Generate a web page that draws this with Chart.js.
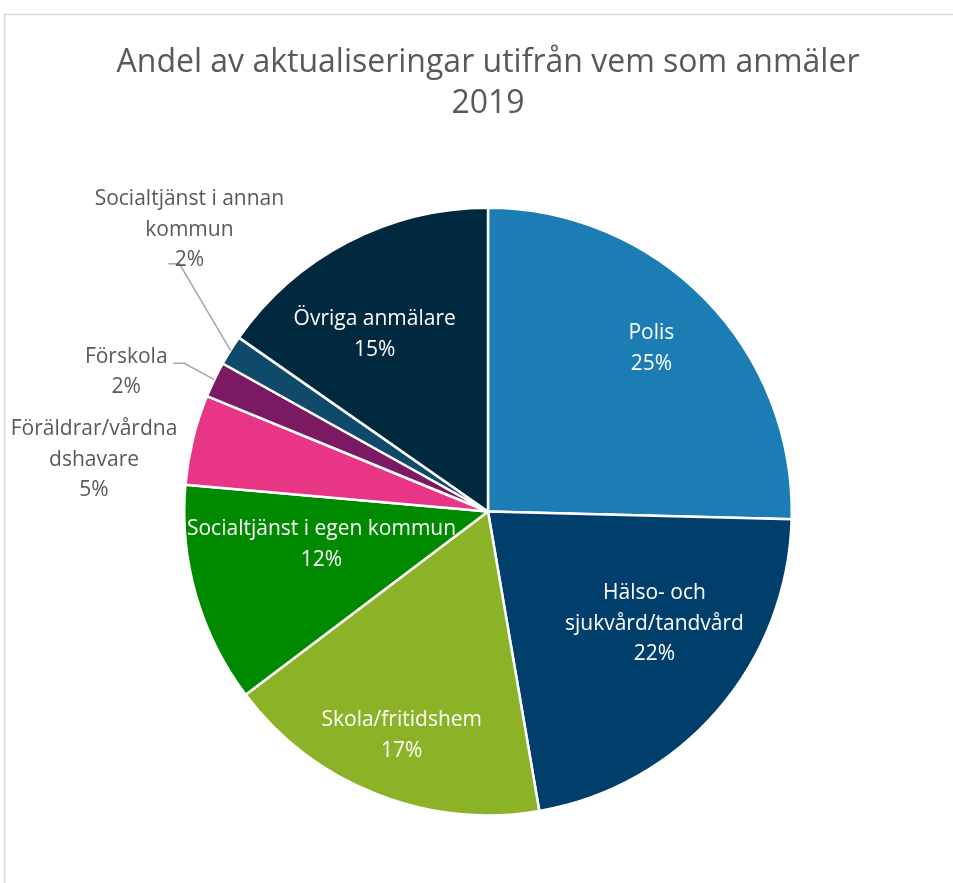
<!DOCTYPE html>
<html>
<head>
<meta charset="utf-8">
<script src="https://cdn.jsdelivr.net/npm/chart.js@4"></script>
<style>
  body { margin: 0; background: #fff; }
  canvas { display: block; }
</style>
</head>
<body>
<canvas id="pieChart" width="953" height="883"></canvas>
<script>
const titleLines = ['Andel av aktualiseringar utifrån vem som anmäler', '2019'];
const categories = [
  ['Polis'],
  ['Hälso- och', 'sjukvård/tandvård'],
  ['Skola/fritidshem'],
  ['Socialtjänst i egen kommun'],
  ['Föräldrar/vårdna', 'dshavare'],
  ['Förskola'],
  ['Socialtjänst i annan', 'kommun'],
  ['Övriga anmälare']
];
const values = [25.4, 21.9, 17.4, 11.7, 4.8, 1.9, 1.6, 15.3];
const colors = ['#1b7db4', '#003f6b', '#8cb227', '#008a00', '#e83585', '#7b1a62', '#0f4a6a', '#00283f'];

// label centre relative to pie centre, in radius units; outside = grey text + leader
const labelSpots = [
  { kx: 0.538, ky: -0.543 },
  { kx: 0.548, ky: 0.363 },
  { kx: -0.284, ky: 0.731 },
  { kx: -0.548, ky: 0.102 },
  { kx: -1.297, ky: -0.177, outside: true },
  { kx: -1.191, ky: -0.465, outside: true, leader: [47, -9, 58, -9] },
  { kx: -0.983, ky: -0.934, outside: true, leader: [-21, 34, -10, 34] },
  { kx: -0.373, ky: -0.589 }
];

const FONT = '"Open Sans", sans-serif';

const framePlugin = {
  id: 'frame',
  beforeDraw(chart) {
    const ctx = chart.ctx;
    ctx.save();
    ctx.strokeStyle = '#d9d9d9';
    ctx.lineWidth = 1.5;
    ctx.beginPath();
    ctx.moveTo(4.5, 883);
    ctx.lineTo(4.5, 14.5);
    ctx.lineTo(953, 14.5);
    ctx.stroke();

    ctx.fillStyle = '#595959';
    ctx.font = '32px ' + FONT;
    ctx.textAlign = 'center';
    ctx.textBaseline = 'middle';
    ctx.fillText(titleLines[0], 488, 63);
    ctx.fillText(titleLines[1], 488, 104);
    ctx.restore();
  }
};

const labelPlugin = {
  id: 'sliceLabels',
  afterDatasetsDraw(chart) {
    const ctx = chart.ctx;
    const arcs = chart.getDatasetMeta(0).data;
    const total = values.reduce((a, b) => a + b, 0);
    ctx.save();
    ctx.font = '21px ' + FONT;
    ctx.textAlign = 'center';
    ctx.textBaseline = 'middle';
    arcs.forEach((arc, i) => {
      const p = arc.getProps(['x', 'y', 'outerRadius', 'startAngle', 'endAngle'], true);
      const spot = labelSpots[i];
      const lx = p.x + p.outerRadius * spot.kx;
      const ly = p.y + p.outerRadius * spot.ky + 2;
      const lines = categories[i].concat([Math.round(values[i] / total * 100) + '%']);
      const lh = 30.5;
      if (spot.leader) {
        const mid = (p.startAngle + p.endAngle) / 2;
        const ex = p.x + Math.cos(mid) * p.outerRadius;
        const ey = p.y + Math.sin(mid) * p.outerRadius;
        ctx.strokeStyle = '#a6a6a6';
        ctx.lineWidth = 1.5;
        ctx.beginPath();
        ctx.moveTo(lx + spot.leader[0], ly + spot.leader[1]);
        ctx.lineTo(lx + spot.leader[2], ly + spot.leader[3]);
        ctx.lineTo(ex, ey);
        ctx.stroke();
      }
      ctx.fillStyle = spot.outside ? '#595959' : '#ffffff';
      const top = ly - (lines.length - 1) * lh / 2;
      lines.forEach((t, j) => ctx.fillText(t, lx, top + j * lh));
    });
    ctx.restore();
  }
};

new Chart(document.getElementById('pieChart'), {
  type: 'pie',
  data: {
    labels: categories.map(c => c.join('')),
    datasets: [{
      data: values,
      backgroundColor: colors,
      borderColor: '#ffffff',
      borderWidth: 2.5
    }]
  },
  options: {
    responsive: false,
    animation: false,
    devicePixelRatio: 1,
    layout: { padding: { left: 183, right: 160, top: 206, bottom: 66 } },
    plugins: {
      legend: { display: false },
      tooltip: { enabled: false },
      title: { display: false }
    }
  },
  plugins: [framePlugin, labelPlugin]
});
</script>
</body>
</html>
